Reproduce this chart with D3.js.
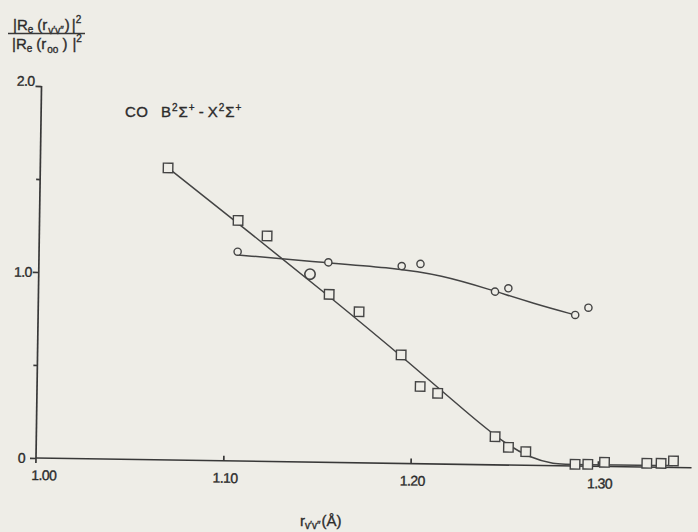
<!DOCTYPE html>
<html>
<head>
<meta charset="utf-8">
<script src="https://cdn.jsdelivr.net/npm/d3@7"></script>
<style>
  html, body { margin: 0; padding: 0; background: #eeede7; }
  svg { display: block; }
  text { font-family: "Liberation Sans", Arial, sans-serif; fill: #2c2c2c; stroke: #2c2c2c; stroke-width: 0.35; }
</style>
</head>
<body>
<svg id="chart" width="698" height="532"></svg>
<script>
// Internuclear distance r (Å) on the x axis, tick positions and labels
const xTicks = [1.00, 1.10, 1.20, 1.30];
const xTickLabels = ["1.00", "1.10", "1.20", "1.30"];
// Ratio |Re(r)|² / |Re(r00)|² on the y axis
const yTicks = [0, 1.0, 2.0];
const yTickLabels = ["0", "1.0", "2.0"];
const yMinorTicks = [0.5, 1.5];

// Square markers
const squareR     = [1.0682, 1.1060, 1.1216, 1.1552, 1.1713, 1.1941, 1.2045, 1.2139, 1.2449, 1.2521, 1.2614, 1.2878, 1.2946, 1.3035, 1.3261, 1.3337, 1.3403];
const squareRatio = [1.570,  1.293,  1.212,  0.903,  0.812,  0.583,  0.415,  0.380,  0.151,  0.095,  0.073,  0.009,  0.010,  0.022,  0.020,  0.021,  0.035];

// Small circle markers
const circleR     = [1.1060, 1.1545, 1.1937, 1.2037, 1.2437, 1.2508, 1.2867, 1.2937];
const circleRatio = [1.125,  1.075,  1.061,  1.074,  0.931,  0.950,  0.812,  0.852];

// Large circle marker
const bigCircleR     = [1.1448];
const bigCircleRatio = [1.010];

// Control points of the smooth curve through the square data
const squareCurveR     = [1.0682, 1.1100, 1.1550, 1.2000, 1.2300, 1.2500, 1.2640, 1.2760, 1.2880, 1.3400];
const squareCurveRatio = [1.570,  1.247,  0.895,  0.530,  0.275,  0.115,  0.040,  0.008,  0.008,  0.010];

// Control points of the smooth curve through the circle data
const circleCurveR     = [1.1062, 1.1500, 1.1900, 1.2150, 1.2400, 1.2650, 1.2867];
const circleCurveRatio = [1.108,  1.074,  1.050,  1.015,  0.945,  0.868,  0.812];

const svg = d3.select("#chart");
const ink = "#383838";

// Plot origin (r = 1.00, ratio = 0); the printed figure sits at a slight tilt
const ox = 36, oy = 458, tilt = 0.85;
const x = d3.scaleLinear().domain([1.00, 1.35]).range([0, 655.6]);
const y = d3.scaleLinear().domain([0, 2]).range([0, -372]);

const g = svg.append("g").attr("transform", `translate(${ox},${oy}) rotate(${tilt})`);

// Axes
const xAxis = d3.axisBottom(x).tickValues(xTicks.slice(1)).tickSize(-5).tickFormat("");
const xg = g.append("g").call(xAxis);
xg.select(".domain").attr("d", `M0,0H${x(1.35)}`);
const yAxis = d3.axisLeft(y).tickValues(yTicks).tickSize(6).tickFormat("");
const yg = g.append("g").call(yAxis);
yg.select(".domain").attr("d", `M0,5V${y(2.0)}`);
g.append("g").call(d3.axisLeft(y).tickValues(yMinorTicks).tickSize(4).tickFormat(""))
  .select(".domain").remove();
g.selectAll(".domain, .tick line").attr("stroke", ink).attr("stroke-width", 1.7);

// Tick labels
g.selectAll(".xlab").data(xTicks).join("text")
  .attr("class", "xlab")
  .attr("x", (d, i) => x(d) + (i === 0 ? 8 : 2))
  .attr("y", 22)
  .attr("text-anchor", "middle")
  .attr("font-size", 14)
  .attr("letter-spacing", -0.6)
  .text((d, i) => xTickLabels[i]);
g.selectAll(".ylab").data(yTicks).join("text")
  .attr("class", "ylab")
  .attr("x", (d, i) => i === 0 ? -11 : -7)
  .attr("y", (d, i) => y(d) + (i === 2 ? 0 : 5))
  .attr("text-anchor", "end")
  .attr("font-size", 14)
  .attr("letter-spacing", -0.6)
  .text((d, i) => yTickLabels[i]);

// Curves
const line = d3.line().x(d => x(d[0])).y(d => y(d[1])).curve(d3.curveBasis);
g.append("path")
  .attr("d", line(d3.zip(squareCurveR, squareCurveRatio)))
  .attr("fill", "none").attr("stroke", "#444").attr("stroke-width", 1.5);
g.append("path")
  .attr("d", line(d3.zip(circleCurveR, circleCurveRatio)))
  .attr("fill", "none").attr("stroke", "#444").attr("stroke-width", 1.5);

// Markers
const sq = 9.5;
g.selectAll(".sq").data(d3.zip(squareR, squareRatio)).join("rect")
  .attr("class", "sq")
  .attr("x", d => x(d[0]) - sq / 2).attr("y", d => y(d[1]) - sq / 2)
  .attr("width", sq).attr("height", sq)
  .attr("fill", "#eeede7").attr("stroke", "#444").attr("stroke-width", 1.4);
g.selectAll(".ci").data(d3.zip(circleR, circleRatio)).join("circle")
  .attr("class", "ci")
  .attr("cx", d => x(d[0])).attr("cy", d => y(d[1])).attr("r", 3.6)
  .attr("fill", "#eeede7").attr("stroke", "#444").attr("stroke-width", 1.4);
g.selectAll(".bc").data(d3.zip(bigCircleR, bigCircleRatio)).join("circle")
  .attr("class", "bc")
  .attr("cx", d => x(d[0])).attr("cy", d => y(d[1])).attr("r", 5.2)
  .attr("fill", "none").attr("stroke", "#444").attr("stroke-width", 1.6);

// Molecule and transition
const title = svg.append("text").attr("x", 125).attr("y", 117).attr("font-size", 15);
title.append("tspan").attr("letter-spacing", 0.5).text("CO");
title.append("tspan").attr("x", 161).text("B");
title.append("tspan").attr("dy", -6).attr("dx", 1).attr("font-size", 10).text("2");
title.append("tspan").attr("dy", 6).attr("dx", 1).text("Σ");
title.append("tspan").attr("dy", -6).attr("dx", 1).attr("font-size", 10).text("+");
title.append("tspan").attr("dy", 6).attr("dx", 4).text("-");
title.append("tspan").attr("dx", 4).text("X");
title.append("tspan").attr("dy", -6).attr("dx", 1).attr("font-size", 10).text("2");
title.append("tspan").attr("dy", 6).attr("dx", 1).text("Σ");
title.append("tspan").attr("dy", -6).attr("dx", 1).attr("font-size", 10).text("+");

// Y axis quantity written as a fraction
const num = svg.append("text").attr("x", 13).attr("y", 29.5).attr("font-size", 15);
num.append("tspan").text("|R");
num.append("tspan").attr("dy", 3).attr("font-size", 10).text("e");
num.append("tspan").attr("dy", -3).attr("dx", 4).text("(r");
num.append("tspan").attr("dy", 4).attr("dx", 1).attr("font-size", 10).text("v′v″");
num.append("tspan").attr("dy", -4).attr("dx", 1).text(")");
num.append("tspan").attr("dx", 2).text("|");
num.append("tspan").attr("dy", -7).attr("font-size", 10).text("2");
svg.append("line").attr("x1", 8).attr("x2", 85).attr("y1", 33.5).attr("y2", 33.5)
  .attr("stroke", ink).attr("stroke-width", 1.4);
const den = svg.append("text").attr("x", 12).attr("y", 48.5).attr("font-size", 15);
den.append("tspan").text("|R");
den.append("tspan").attr("dy", 3).attr("font-size", 10).text("e");
den.append("tspan").attr("dy", -3).attr("dx", 4).text("(r");
den.append("tspan").attr("dy", 4).attr("dx", 1).attr("font-size", 10).text("oo");
den.append("tspan").attr("dy", -4).attr("dx", 4).text(")");
den.append("tspan").attr("dx", 5).text("|");
den.append("tspan").attr("dy", -7).attr("font-size", 10).text("2");

// X axis quantity
const xl = svg.append("text").attr("x", 300).attr("y", 526).attr("font-size", 15);
xl.append("tspan").text("r");
xl.append("tspan").attr("dy", 3).attr("font-size", 10).text("v′v″");
xl.append("tspan").attr("dy", -3).attr("dx", 1).text("(Å)");
</script>
</body>
</html>
